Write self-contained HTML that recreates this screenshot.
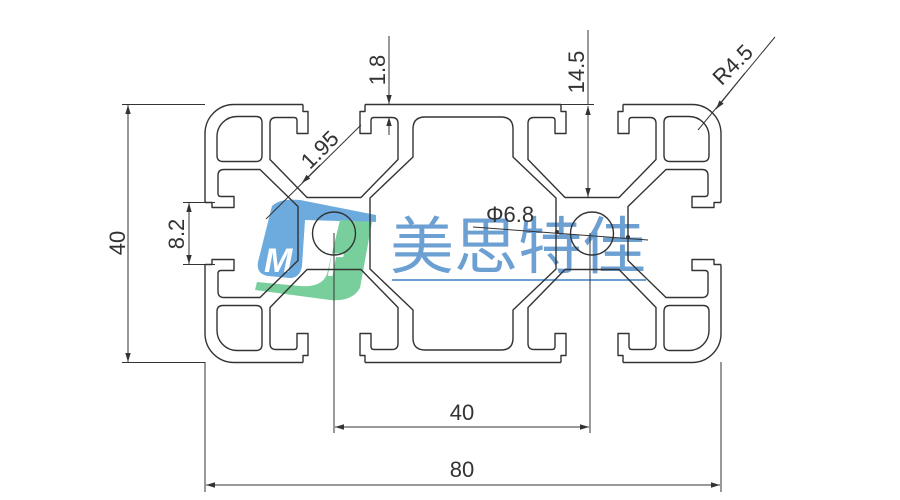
<!DOCTYPE html>
<html><head><meta charset="utf-8"><style>
html,body{margin:0;padding:0;background:#fff;width:900px;height:500px;overflow:hidden}
svg{display:block}
text{font-family:"Liberation Sans",sans-serif;fill:#333}
</style></head><body>
<svg width="900" height="500" viewBox="0 0 900 500">
<defs>
<path id="H" d="M -31,-129 L -31,-122 L -26,-122 L -26,-100 L -37,-100 L -37,-113 Q -37,-116 -40,-116 L -58,-116 Q -64,-116 -64,-110 L -64,-74 L -27,-36 L 0,-36"/>
<path id="C" d="M -97,-117 L -78,-117 Q -72,-117 -72,-111 L -72,-78 Q -72,-72 -78,-72 L -111,-72 Q -117,-72 -117,-78 L -117,-97 A 20 20 0 0 1 -97,-117 Z"/>
<path id="O" d="M -31,-129 L -100,-129 A 29 29 0 0 0 -129,-100 L -129,-31"/>
<marker id="ar" viewBox="0 0 10 10" refX="10" refY="5" markerWidth="9" markerHeight="9" orient="auto-start-reverse" markerUnits="userSpaceOnUse"><path d="M0,2 L10,5 L0,8 Z" fill="#333"/></marker>
</defs>

<!-- logo -->
<g opacity="0.75">
<path d="M376,215 L300,200 Q280,198 272,206 L258,262 Q256,274 268,276 L290,278 Q300,278 302,266 L305,220 L376,222 Z" fill="#3d8fd4"/>
<path d="M340,220 L372,222 L360,288 Q352,302 330,300 L255,290 L257,282 L300,286 Q325,288 328,270 Z" fill="#4cc07a"/>
</g>
<text x="264" y="272" font-size="34" font-weight="bold" font-style="italic" style="fill:#fff">M</text>
<text x="322" y="276" font-size="32" font-weight="bold" font-style="italic" style="fill:#fff">T</text>
<text x="390" y="268" font-size="62" style="fill:#6c9fd2;font-family:'Liberation Sans','Noto Sans CJK SC',sans-serif" textLength="256" lengthAdjust="spacingAndGlyphs">美思特佳</text>
<line x1="392" y1="280" x2="646" y2="280" stroke="#6c9fd2" stroke-width="2"/>

<g fill="none" stroke="#333" stroke-width="1.4" stroke-linejoin="round">
<g transform="translate(334,233.5)">
<use href="#H"/><use href="#H" transform="scale(-1,1)"/>
<use href="#H" transform="scale(1,-1)"/><use href="#H" transform="scale(-1,-1)"/>
<use href="#H" transform="matrix(0,1,1,0,0,0)"/><use href="#H" transform="matrix(0,-1,1,0,0,0)"/>
<use href="#C"/><use href="#C" transform="scale(1,-1)"/>
<use href="#O"/><use href="#O" transform="scale(1,-1)"/>
<circle r="21.5"/>
</g>
<g transform="translate(592,233.5)">
<use href="#H"/><use href="#H" transform="scale(-1,1)"/>
<use href="#H" transform="scale(1,-1)"/><use href="#H" transform="scale(-1,-1)"/>
<use href="#H" transform="matrix(0,1,-1,0,0,0)"/><use href="#H" transform="matrix(0,-1,-1,0,0,0)"/>
<use href="#C" transform="scale(-1,1)"/><use href="#C" transform="scale(-1,-1)"/>
<use href="#O" transform="scale(-1,1)"/><use href="#O" transform="scale(-1,-1)"/>
<circle r="21.5"/>
</g>
<line x1="365" y1="104.5" x2="561" y2="104.5"/>
<line x1="365" y1="362.5" x2="561" y2="362.5"/>
<path d="M425,117 L501,117 Q513,117 513,129 L513,157 L556,198 L556,269 L513,310 L513,338 Q513,350 501,350 L425,350 Q413,350 413,338 L413,310 L370,269 L370,198 L413,157 L413,129 Q413,117 425,117 Z"/>
</g>

<g stroke="#333" stroke-width="1" fill="none">
<line x1="122" y1="104.5" x2="205" y2="104.5"/>
<line x1="122" y1="362.5" x2="205" y2="362.5"/>
<line x1="128" y1="105" x2="128" y2="362" marker-start="url(#ar)" marker-end="url(#ar)"/>
<line x1="183" y1="202.5" x2="215" y2="202.5"/>
<line x1="183" y1="264.5" x2="215" y2="264.5"/>
<line x1="189" y1="203" x2="189" y2="264" marker-start="url(#ar)" marker-end="url(#ar)"/>
<line x1="205" y1="362" x2="205" y2="492"/>
<line x1="721" y1="362" x2="721" y2="492"/>
<line x1="206" y1="485" x2="720" y2="485" marker-start="url(#ar)" marker-end="url(#ar)"/>
<line x1="334" y1="233" x2="334" y2="433"/>
<line x1="590" y1="233" x2="590" y2="433"/>
<line x1="335" y1="427" x2="589" y2="427" marker-start="url(#ar)" marker-end="url(#ar)"/>
<line x1="389" y1="36" x2="389" y2="104" marker-end="url(#ar)"/>
<line x1="389" y1="135" x2="389" y2="117" marker-end="url(#ar)"/>
<line x1="365" y1="104.5" x2="400" y2="104.5"/>
<line x1="588" y1="30" x2="588" y2="104"/>
<line x1="588" y1="106" x2="588" y2="197" marker-start="url(#ar)" marker-end="url(#ar)"/>
<line x1="560" y1="104.5" x2="594" y2="104.5"/>
<line x1="775" y1="37" x2="698" y2="130"/>
<line x1="745" y1="73" x2="716" y2="109" marker-end="url(#ar)"/>
<line x1="266" y1="219" x2="361" y2="125"/>
<line x1="320" y1="165" x2="302" y2="183" marker-end="url(#ar)"/>
<line x1="473" y1="227" x2="648" y2="240"/>
</g>
<circle cx="557" cy="232" r="2" fill="#333"/>
<circle cx="628" cy="237" r="2" fill="#333"/>

<g font-size="22">
<text transform="translate(125,243) rotate(-90)" text-anchor="middle">40</text>
<text transform="translate(184,234) rotate(-90)" text-anchor="middle">8.2</text>
<text x="462" y="477" text-anchor="middle">80</text>
<text x="462" y="420" text-anchor="middle">40</text>
<text transform="translate(385,70) rotate(-90)" text-anchor="middle">1.8</text>
<text transform="translate(584,72) rotate(-90)" text-anchor="middle">14.5</text>
<text transform="translate(738,70) rotate(-45)" text-anchor="middle">R4.5</text>
<text transform="translate(325,155) rotate(-45)" text-anchor="middle">1.95</text>
<text x="486" y="222">Φ6.8</text>
</g>
</svg>
</body></html>
